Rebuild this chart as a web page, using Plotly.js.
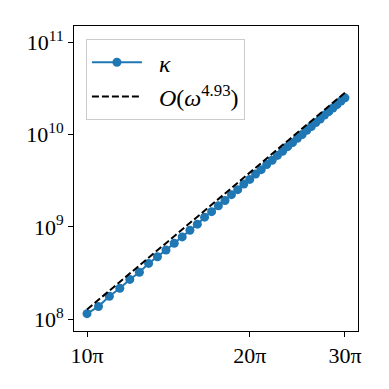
<!DOCTYPE html>
<html>
<head>
<meta charset="utf-8">
<script src="https://cdn.plot.ly/plotly-3.0.1.min.js"></script>
<style>
  html, body { margin: 0; padding: 0; background: #fff; }
  #plot { width: 389px; height: 389px; }
</style>
</head>
<body>
<div id="plot"></div>
<script>
// frequencies as multiples of pi (omega = n * pi)
let omegaOverPi = [10, 10.5, 11, 11.5, 12, 12.5, 13, 13.5, 14, 14.5,
                   15, 15.5, 16, 16.5, 17, 17.5, 18, 18.5, 19, 19.5,
                   20, 20.5, 21, 21.5, 22, 22.5, 23, 23.5, 24, 24.5,
                   25, 25.5, 26, 26.5, 27, 27.5, 28, 28.5, 29, 29.5, 30];

// kappa values
let kappa = [1.151e8, 1.374e8, 1.778e8, 2.163e8, 2.704e8, 3.236e8, 4.027e8, 4.753e8, 5.636e8, 6.668e8,
             7.798e8, 9.204e8, 1.072e9, 1.276e9, 1.466e9, 1.698e9, 1.936e9, 2.239e9, 2.535e9, 2.917e9,
             3.273e9, 3.741e9, 4.178e9, 4.742e9, 5.284e9, 5.957e9, 6.607e9, 7.413e9, 8.185e9, 9.141e9,
             1.005e10, 1.117e10, 1.225e10, 1.352e10, 1.479e10, 1.629e10, 1.774e10, 1.945e10, 2.113e10, 2.312e10,
             2.506e10];

// reference slope line (end points)
let refOmegaOverPi = [10, 30];
let refValues = [1.276e8, 2.85e10];

// tick labels
let xTickPi = [10, 20, 30];
let xTickText = ['10π', '20π', '30π'];
let yTickVals = [1e8, 1e9, 1e10, 1e11];
let yTickText = ['10<sup>8</sup>', '10<sup>9</sup>', '10<sup>10</sup>', '10<sup>11</sup>'];

let xData = omegaOverPi.map(n => n * Math.PI);
let refX = refOmegaOverPi.map(n => n * Math.PI);
let xTickVals = xTickPi.map(n => n * Math.PI);

let trace1 = {
    x: xData,
    y: kappa,
    type: 'scatter',
    mode: 'lines+markers',
    name: '\u2002<i>κ</i>',
    line: {color: '#1f77b4', width: 2},
    marker: {color: '#1f77b4', size: 9}
};

let trace2 = {
    x: refX,
    y: refValues,
    type: 'scatter',
    mode: 'lines',
    name: '\u2002<i>O</i>(<i>ω</i><sup>4.93</sup>)',
    line: {color: '#000000', width: 2, dash: '7px,3px'}
};

let data = [trace1, trace2];

let axisCommon = {
    showline: true,
    mirror: true,
    linecolor: '#000',
    linewidth: 1,
    ticks: 'outside',
    ticklen: 5,
    tickwidth: 1,
    tickcolor: '#000',
    showgrid: false,
    zeroline: false,
    tickfont: {family: 'Liberation Serif, serif', size: 22, color: '#000'}
};

let layout = {
    width: 389,
    height: 389,
    margin: {l: 74, r: 31, t: 26, b: 58},
    paper_bgcolor: '#fff',
    plot_bgcolor: '#fff',
    font: {family: 'Liberation Serif, serif', size: 22, color: '#000'},
    xaxis: Object.assign({}, axisCommon, {
        type: 'log',
        range: [1.4731, 1.9984],
        tickmode: 'array',
        tickvals: xTickVals,
        ticktext: xTickText
    }),
    yaxis: Object.assign({}, axisCommon, {
        type: 'log',
        range: [7.873, 11.177],
        tickmode: 'array',
        tickvals: yTickVals,
        ticktext: yTickText
    }),
    showlegend: true,
    legend: {
        x: 0.042,
        y: 0.957,
        xanchor: 'left',
        yanchor: 'top',
        bgcolor: 'rgba(255,255,255,0.8)',
        bordercolor: '#cccccc',
        borderwidth: 1,
        itemwidth: 50,
        tracegroupgap: 4,
        font: {family: 'Liberation Serif, serif', size: 24, color: '#000'}
    }
};

Plotly.newPlot('plot', data, layout, {displayModeBar: false, staticPlot: true});
</script>
</body>
</html>
